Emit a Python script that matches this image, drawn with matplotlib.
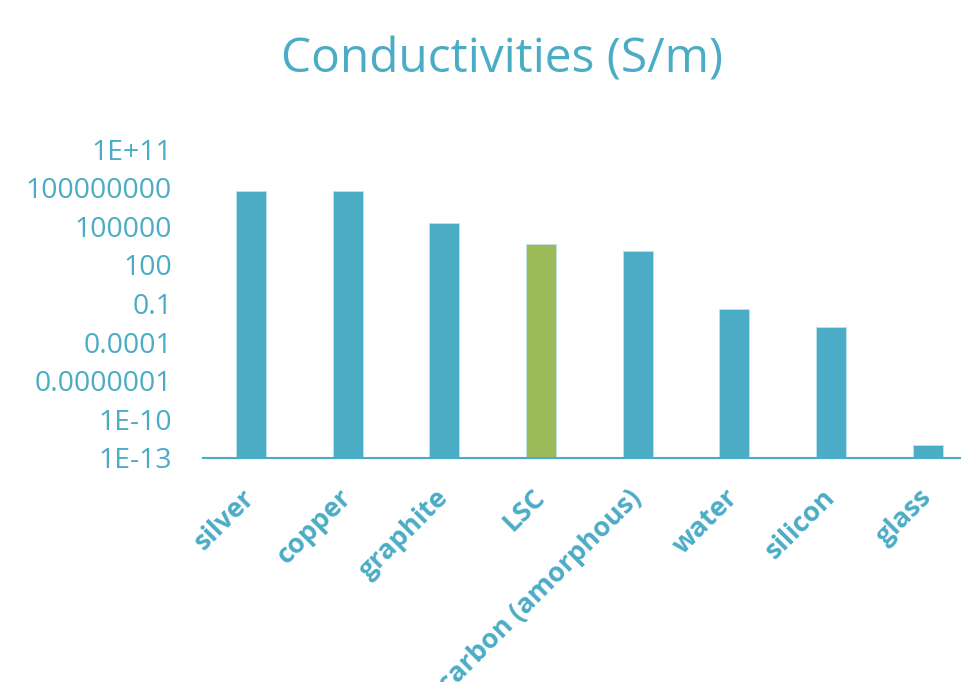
import matplotlib
matplotlib.use("Agg")
import matplotlib.pyplot as plt
import numpy as np
from matplotlib.ticker import FixedLocator, FixedFormatter

# ---------------- DATA ----------------

materials = ["silver", "copper", "graphite", "LSC", "carbon (amorphous)",
             "water", "silicon", "glass"]
conductivity = [6.0e7, 5.6e7, 1.7e5, 4.0e3, 1.3e3, 0.04, 1.6e-3, 8e-13]
highlight = "LSC"

ytick_values = [1e-13, 1e-10, 1e-7, 1e-4, 1e-1, 1e2, 1e5, 1e8, 1e11]
ytick_labels = ["1E-13", "1E-10", "0.0000001", "0.0001", "0.1", "100",
                "100000", "100000000", "1E+11"]

# ---------------- STYLE ----------------

BLUE = "#4BACC6"
GREEN = "#9BBB59"
FONT = "Open Sans"

W, H = 962, 682
DPI = 100

fig = plt.figure(figsize=(W / DPI, H / DPI), dpi=DPI)


def px_axes(left, top, width, height):
    # axes rectangle given in pixel coords (origin top-left)
    return [left / W, 1 - (top + height) / H, width / W, height / H]


# main plot area (extends past the right edge, like the reference)
ax = fig.add_axes(px_axes(202.7, 149.3, 773.3, 308.4))

colors = [GREEN if m == highlight else BLUE for m in materials]
x = np.arange(len(materials))
ax.bar(x, conductivity, width=0.31, color=colors, edgecolor="#bfe2ec",
       linewidth=0.6, bottom=1e-13, zorder=2)

ax.set_yscale("log")
ax.set_ylim(1e-13, 1e11)
ax.set_xlim(-0.5, len(materials) - 0.5)

ax.yaxis.set_major_locator(FixedLocator(ytick_values))
ax.yaxis.set_major_formatter(FixedFormatter(ytick_labels))
ax.yaxis.set_minor_locator(FixedLocator([]))
ax.tick_params(axis="y", length=0, pad=22, labelsize=20.4, labelcolor=BLUE)
for lab in ax.get_yticklabels():
    lab.set_fontfamily(FONT)

# category labels, rotated 45 degrees and ending under each bar
ax.set_xticks(x)
ax.set_xticklabels(materials, rotation=45, ha="right", va="center",
                   rotation_mode="anchor", fontsize=19.5,
                   fontweight="bold", color=BLUE, fontfamily=FONT)
ax.tick_params(axis="x", length=0, pad=26)

for side in ["top", "right", "left"]:
    ax.spines[side].set_visible(False)
ax.spines["bottom"].set_color(BLUE)
ax.spines["bottom"].set_linewidth(1.5)
ax.spines["bottom"].set_zorder(3)

# ---------------- TITLE ----------------

fig.text(502.5 / W, 1 - 72.7 / H, "Conductivities (S/m)", ha="center",
         va="baseline", fontsize=34.5, color=BLUE, fontfamily=FONT)

fig.savefig("out.png", dpi=DPI)
